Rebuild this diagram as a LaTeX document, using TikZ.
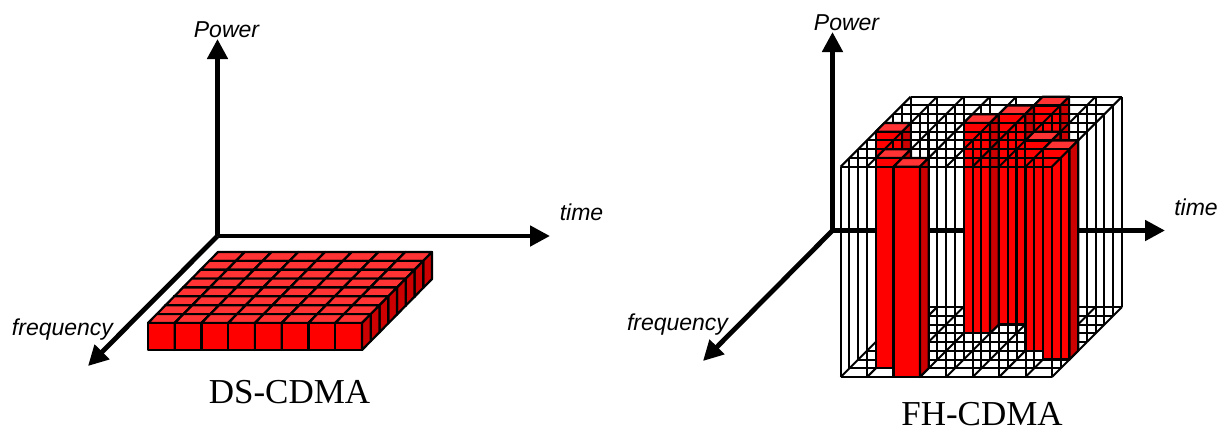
\documentclass[tikz,border=0pt]{standalone}
\usepackage{fontspec}
\setmainfont{Liberation Serif}
\newfontfamily\sansit{Liberation Sans}
\usetikzlibrary{arrows.meta}
\definecolor{redfront}{HTML}{FF0000}
\definecolor{redtop}{HTML}{FF3333}
\definecolor{redside}{HTML}{CC0000}
% one red cell: column #1, depth #2, height #3
\newcommand{\redcell}[3]{%
  \filldraw[celledge,fill=redtop] (#1,#3,#2) -- (#1+1,#3,#2) -- (#1+1,#3,#2+1) -- (#1,#3,#2+1) -- cycle;
  \filldraw[celledge,fill=redfront] (#1,0,#2) -- (#1+1,0,#2) -- (#1+1,#3,#2) -- (#1,#3,#2) -- cycle;
  \filldraw[celledge,fill=redside] (#1+1,0,#2) -- (#1+1,0,#2+1) -- (#1+1,#3,#2+1) -- (#1+1,#3,#2) -- cycle;
}
% wire lines of one depth plane
\newcommand{\wireplane}[1]{%
  \foreach \k in {0,...,8} {\draw[wire] (\k,0,#1) -- (\k,1,#1);}
  \draw[wire] (0,0,#1) -- (8,0,#1);
  \draw[wire] (0,1,#1) -- (8,1,#1);
}

\begin{document}
\begin{tikzpicture}[x=0.5pt,y=-0.5pt,
    axis/.style={line width=2.4pt,-{Triangle[length=10pt,width=10pt]}},
    axislabel/.style={font=\sansit\itshape\fontsize{11.5}{13}\selectfont,inner sep=0pt,anchor=base},
    title/.style={font=\fontsize{17.5}{20}\selectfont,inner sep=0pt,anchor=base},
    celledge/.style={draw=black,line width=1.1pt,line join=round},
    wire/.style={black,line width=1pt}]
  \useasboundingbox (0,0) rectangle (1228,430);

  % DS-CDMA
  \coordinate (o1) at (217.5,236);
  \coordinate (p1) at (217.5,39);
  \coordinate (t1) at (550,236);
  \coordinate (f1) at (88,366);
  \draw[axis] (o1) -- (p1);
  \draw[axis] (o1) -- (t1);
  \draw[axis] (o1) -- (f1);
  \node[axislabel] (pw1) at (226.5,37) {Power};
  \node[axislabel] (tm1) at (581.5,220) {time};
  \node[axislabel] (fq1) at (62.5,335) {frequency};
  \begin{scope}[shift={(148,350)},x={(13.375pt,0pt)},y={(0pt,13.5pt)},z={(4.375pt,4.4375pt)}]
    \foreach \d in {7,6,...,0} {
      \foreach \i in {0,...,7} {
        \redcell{\i}{\d}{1}
      }
    }
  \end{scope}
  \node[title] (ds) at (289.5,403) {DS-CDMA};

  % FH-CDMA
  \coordinate (o2) at (832.5,230.5);
  \coordinate (p2) at (832.5,32);
  \coordinate (t2) at (1165,230.5);
  \coordinate (f2) at (703,361);
  \draw[axis] (o2) -- (p2);
  \draw[axis] (o2) -- (t2);
  \draw[axis] (o2) -- (f2);
  \node[axislabel] (pw2) at (846.5,30) {Power};
  \node[axislabel] (tm2) at (1196,215) {time};
  \node[axislabel] (fq2) at (677.5,330) {frequency};
  \begin{scope}[shift={(840.7,377)},x={(13.2pt,0pt)},y={(0pt,105.15pt)},z={(4.375pt,4.375pt)}]
    \foreach \d/\c in {7/5,6/4,5/3,4/0,3/6,2/7,1/1,0/2} {
      \wireplane{\d+1}
      \foreach \k in {0,...,8} {
        \draw[wire] (\k,0,\d) -- (\k,0,\d+1);
        \draw[wire] (\k,1,\d) -- (\k,1,\d+1);
      }
      \redcell{\c}{\d}{1}
    }
    \wireplane{0}
  \end{scope}
  \node[title] (fh) at (982,425.5) {FH-CDMA};
\end{tikzpicture}
\end{document}
